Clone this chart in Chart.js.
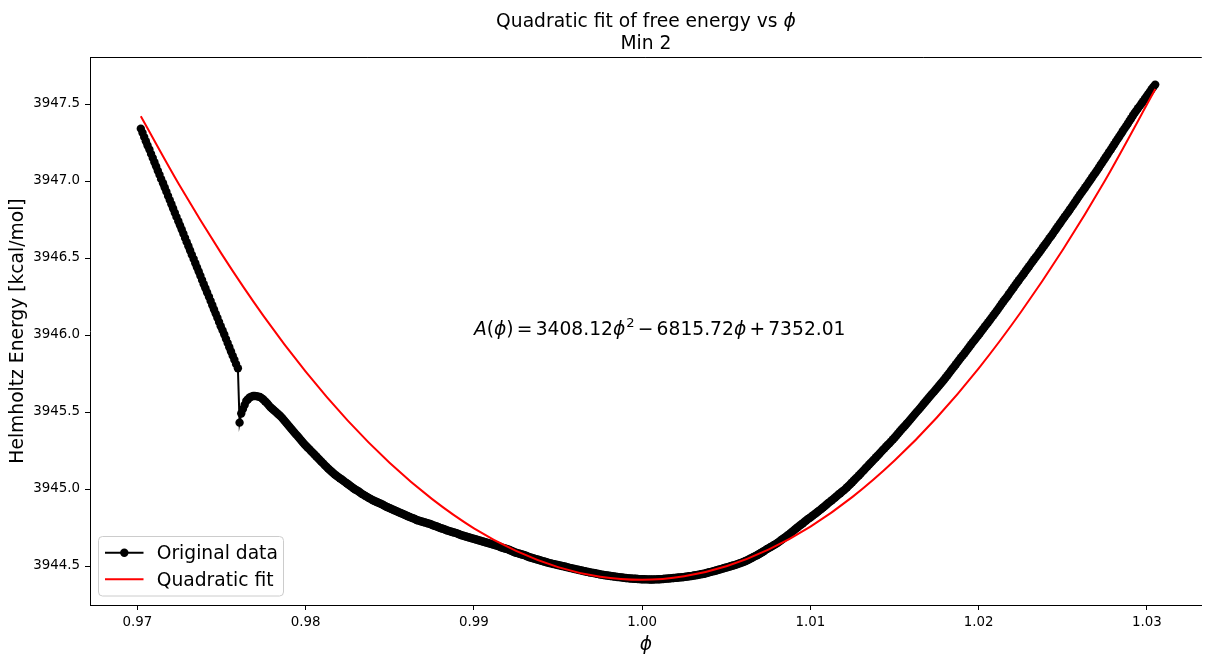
<!DOCTYPE html>
<html>
<head>
<meta charset="utf-8">
<script src="https://cdn.jsdelivr.net/npm/chart.js@4.4.1/dist/chart.umd.min.js"></script>
<style>
  html, body { margin: 0; padding: 0; background: #ffffff; overflow: hidden; }
  canvas { display: block; }
</style>
</head>
<body>
<canvas id="c" width="1206" height="655" style="width:1206px;height:655px"></canvas>
<script>
const titleMain = "Quadratic fit of free energy vs ";
const titleSymbol = "\u03D5";
const titleSub = "Min 2";
const xLabel = "\u03D5";
const yLabel = "Helmholtz Energy [kcal/mol]";
const seriesNames = ["Original data", "Quadratic fit"];
const xTicks = [0.97, 0.98, 0.99, 1.00, 1.01, 1.02, 1.03];
const yTicks = [3944.5, 3945.0, 3945.5, 3946.0, 3946.5, 3947.0, 3947.5];
const fitCoef = ["3408.12", "6815.72", "7352.01"];
const annotationAt = [0.99, 3946.0];

const phi = [
0.97020,0.97030,0.97040,0.97050,0.97060,0.97071,0.97081,0.97091,0.97101,0.97111,0.97121,0.97131,0.97141,0.97152,0.97162,0.97172,0.97182,0.97192,0.97202,0.97212,
0.97222,0.97232,0.97243,0.97253,0.97263,0.97273,0.97283,0.97293,0.97303,0.97313,0.97323,0.97334,0.97344,0.97354,0.97364,0.97374,0.97384,0.97394,0.97404,0.97414,
0.97425,0.97435,0.97445,0.97455,0.97465,0.97475,0.97485,0.97495,0.97506,0.97516,0.97526,0.97536,0.97546,0.97556,0.97566,0.97576,0.97586,0.97597,0.97607,0.97617,
0.97627,0.97637,0.97647,0.97657,0.97667,0.97677,0.97688,0.97698,0.97708,0.97718,0.97728,0.97738,0.97748,0.97758,0.97769,0.97779,0.97789,0.97799,0.97809,0.97819,
0.97829,0.97839,0.97849,0.97860,0.97870,0.97880,0.97890,0.97900,0.97910,0.97920,0.97930,0.97940,0.97951,0.97961,0.97971,0.97981,0.97991,0.98001,0.98011,0.98021,
0.98031,0.98042,0.98052,0.98062,0.98072,0.98082,0.98092,0.98102,0.98112,0.98123,0.98133,0.98143,0.98153,0.98163,0.98173,0.98183,0.98193,0.98203,0.98214,0.98224,
0.98234,0.98244,0.98254,0.98264,0.98274,0.98284,0.98294,0.98305,0.98315,0.98325,0.98335,0.98345,0.98355,0.98365,0.98375,0.98386,0.98396,0.98406,0.98416,0.98426,
0.98436,0.98446,0.98456,0.98466,0.98477,0.98487,0.98497,0.98507,0.98517,0.98527,0.98537,0.98547,0.98557,0.98568,0.98578,0.98588,0.98598,0.98608,0.98618,0.98628,
0.98638,0.98649,0.98659,0.98669,0.98679,0.98689,0.98699,0.98709,0.98719,0.98729,0.98740,0.98750,0.98760,0.98770,0.98780,0.98790,0.98800,0.98810,0.98820,0.98831,
0.98841,0.98851,0.98861,0.98871,0.98881,0.98891,0.98901,0.98912,0.98922,0.98932,0.98942,0.98952,0.98962,0.98972,0.98982,0.98992,0.99003,0.99013,0.99023,0.99033,
0.99043,0.99053,0.99063,0.99073,0.99083,0.99094,0.99104,0.99114,0.99124,0.99134,0.99144,0.99154,0.99164,0.99175,0.99185,0.99195,0.99205,0.99215,0.99225,0.99235,
0.99245,0.99255,0.99266,0.99276,0.99286,0.99296,0.99306,0.99316,0.99326,0.99336,0.99346,0.99357,0.99367,0.99377,0.99387,0.99397,0.99407,0.99417,0.99427,0.99437,
0.99448,0.99458,0.99468,0.99478,0.99488,0.99498,0.99508,0.99518,0.99529,0.99539,0.99549,0.99559,0.99569,0.99579,0.99589,0.99599,0.99609,0.99620,0.99630,0.99640,
0.99650,0.99660,0.99670,0.99680,0.99690,0.99700,0.99711,0.99721,0.99731,0.99741,0.99751,0.99761,0.99771,0.99781,0.99792,0.99802,0.99812,0.99822,0.99832,0.99842,
0.99852,0.99862,0.99872,0.99883,0.99893,0.99903,0.99913,0.99923,0.99933,0.99943,0.99953,0.99963,0.99974,0.99984,0.99994,1.00004,1.00014,1.00024,1.00034,1.00044,
1.00054,1.00065,1.00075,1.00085,1.00095,1.00105,1.00115,1.00125,1.00135,1.00146,1.00156,1.00166,1.00176,1.00186,1.00196,1.00206,1.00216,1.00226,1.00237,1.00247,
1.00257,1.00267,1.00277,1.00287,1.00297,1.00307,1.00317,1.00328,1.00338,1.00348,1.00358,1.00368,1.00378,1.00388,1.00398,1.00409,1.00419,1.00429,1.00439,1.00449,
1.00459,1.00469,1.00479,1.00489,1.00500,1.00510,1.00520,1.00530,1.00540,1.00550,1.00560,1.00570,1.00580,1.00591,1.00601,1.00611,1.00621,1.00631,1.00641,1.00651,
1.00661,1.00672,1.00682,1.00692,1.00702,1.00712,1.00722,1.00732,1.00742,1.00752,1.00763,1.00773,1.00783,1.00793,1.00803,1.00813,1.00823,1.00833,1.00843,1.00854,
1.00864,1.00874,1.00884,1.00894,1.00904,1.00914,1.00924,1.00935,1.00945,1.00955,1.00965,1.00975,1.00985,1.00995,1.01005,1.01015,1.01026,1.01036,1.01046,1.01056,
1.01066,1.01076,1.01086,1.01096,1.01106,1.01117,1.01127,1.01137,1.01147,1.01157,1.01167,1.01177,1.01187,1.01198,1.01208,1.01218,1.01228,1.01238,1.01248,1.01258,
1.01268,1.01278,1.01289,1.01299,1.01309,1.01319,1.01329,1.01339,1.01349,1.01359,1.01369,1.01380,1.01390,1.01400,1.01410,1.01420,1.01430,1.01440,1.01450,1.01460,
1.01471,1.01481,1.01491,1.01501,1.01511,1.01521,1.01531,1.01541,1.01552,1.01562,1.01572,1.01582,1.01592,1.01602,1.01612,1.01622,1.01632,1.01643,1.01653,1.01663,
1.01673,1.01683,1.01693,1.01703,1.01713,1.01723,1.01734,1.01744,1.01754,1.01764,1.01774,1.01784,1.01794,1.01804,1.01815,1.01825,1.01835,1.01845,1.01855,1.01865,
1.01875,1.01885,1.01895,1.01906,1.01916,1.01926,1.01936,1.01946,1.01956,1.01966,1.01976,1.01986,1.01997,1.02007,1.02017,1.02027,1.02037,1.02047,1.02057,1.02067,
1.02077,1.02088,1.02098,1.02108,1.02118,1.02128,1.02138,1.02148,1.02158,1.02169,1.02179,1.02189,1.02199,1.02209,1.02219,1.02229,1.02239,1.02249,1.02260,1.02270,
1.02280,1.02290,1.02300,1.02310,1.02320,1.02330,1.02340,1.02351,1.02361,1.02371,1.02381,1.02391,1.02401,1.02411,1.02421,1.02432,1.02442,1.02452,1.02462,1.02472,
1.02482,1.02492,1.02502,1.02512,1.02523,1.02533,1.02543,1.02553,1.02563,1.02573,1.02583,1.02593,1.02603,1.02614,1.02624,1.02634,1.02644,1.02654,1.02664,1.02674,
1.02684,1.02695,1.02705,1.02715,1.02725,1.02735,1.02745,1.02755,1.02765,1.02775,1.02786,1.02796,1.02806,1.02816,1.02826,1.02836,1.02846,1.02856,1.02866,1.02877,
1.02887,1.02897,1.02907,1.02917,1.02927,1.02937,1.02947,1.02958,1.02968,1.02978,1.02988,1.02998,1.03008,1.03018,1.03028,1.03038,1.03049
];

const energy = [
3947.340,3947.313,3947.285,3947.258,3947.231,3947.204,3947.176,3947.149,3947.122,3947.095,3947.067,3947.040,3947.012,3946.985,3946.958,3946.931,3946.903,3946.876,3946.849,3946.822,
3946.794,3946.767,3946.739,3946.712,3946.685,3946.658,3946.630,3946.603,3946.576,3946.549,3946.521,3946.494,3946.466,3946.439,3946.412,3946.385,3946.357,3946.330,3946.303,3946.276,
3946.248,3946.221,3946.193,3946.166,3946.139,3946.112,3946.084,3946.057,3946.030,3946.003,3945.975,3945.948,3945.920,3945.893,3945.866,3945.839,3945.811,3945.784,
3945.431,3945.490,3945.519,3945.545,3945.571,3945.583,3945.594,3945.600,3945.604,3945.604,3945.603,3945.600,3945.597,3945.590,3945.581,3945.570,3945.558,3945.545,3945.532,3945.523,3945.513,3945.504,
3945.494,3945.484,3945.474,3945.461,3945.448,3945.435,3945.422,3945.409,3945.396,3945.383,3945.370,3945.357,3945.344,3945.331,3945.318,3945.305,3945.292,3945.281,3945.270,3945.259,
3945.247,3945.236,3945.224,3945.213,3945.201,3945.190,3945.179,3945.168,3945.156,3945.145,3945.133,3945.124,3945.114,3945.104,3945.094,3945.086,3945.078,3945.070,3945.062,3945.054,
3945.045,3945.037,3945.029,3945.021,3945.013,3945.005,3944.997,3944.991,3944.984,3944.976,3944.968,3944.962,3944.955,3944.949,3944.942,3944.936,3944.929,3944.924,3944.919,3944.914,
3944.909,3944.904,3944.899,3944.893,3944.886,3944.882,3944.877,3944.872,3944.867,3944.862,3944.857,3944.852,3944.847,3944.843,3944.838,3944.833,3944.828,3944.823,3944.818,3944.814,
3944.810,3944.805,3944.799,3944.796,3944.792,3944.789,3944.786,3944.783,3944.779,3944.776,3944.773,3944.768,3944.763,3944.760,3944.757,3944.752,3944.747,3944.744,3944.740,3944.736,
3944.731,3944.728,3944.724,3944.721,3944.718,3944.715,3944.711,3944.706,3944.701,3944.698,3944.695,3944.692,3944.688,3944.685,3944.682,3944.679,3944.675,3944.672,3944.669,3944.666,
3944.662,3944.659,3944.656,3944.653,3944.649,3944.646,3944.643,3944.640,3944.636,3944.633,3944.630,3944.625,3944.620,3944.617,3944.614,3944.611,3944.607,3944.602,3944.597,3944.593,
3944.588,3944.585,3944.581,3944.578,3944.575,3944.572,3944.568,3944.563,3944.558,3944.555,3944.552,3944.549,3944.545,3944.542,3944.539,3944.536,3944.532,3944.529,3944.526,3944.523,
3944.519,3944.517,3944.514,3944.512,3944.509,3944.507,3944.504,3944.502,3944.499,3944.497,3944.494,3944.491,3944.488,3944.486,3944.483,3944.481,3944.478,3944.476,3944.473,3944.471,
3944.468,3944.466,3944.463,3944.461,3944.458,3944.457,3944.455,3944.453,3944.450,3944.448,3944.445,3944.444,3944.442,3944.440,3944.438,3944.437,3944.435,3944.434,3944.432,3944.431,
3944.429,3944.428,3944.426,3944.425,3944.423,3944.422,3944.421,3944.420,3944.419,3944.418,3944.417,3944.417,3944.416,3944.415,3944.414,3944.414,3944.414,3944.413,3944.413,3944.412,
3944.412,3944.412,3944.413,3944.413,3944.414,3944.414,3944.415,3944.416,3944.417,3944.418,3944.419,3944.420,3944.421,3944.422,3944.423,3944.424,3944.425,3944.426,3944.427,3944.428,
3944.430,3944.431,3944.433,3944.434,3944.436,3944.438,3944.440,3944.442,3944.444,3944.446,3944.448,3944.450,3944.453,3944.456,3944.459,3944.462,3944.465,3944.468,3944.471,3944.474,
3944.477,3944.480,3944.484,3944.487,3944.490,3944.493,3944.497,3944.500,3944.503,3944.506,3944.510,3944.514,3944.518,3944.522,3944.526,3944.531,3944.536,3944.541,3944.547,3944.552,
3944.558,3944.564,3944.570,3944.576,3944.583,3944.589,3944.596,3944.603,3944.610,3944.616,3944.623,3944.629,3944.636,3944.642,3944.649,3944.657,3944.666,3944.674,3944.682,3944.690,
3944.699,3944.707,3944.716,3944.725,3944.734,3944.743,3944.752,3944.761,3944.770,3944.778,3944.787,3944.796,3944.805,3944.812,3944.820,3944.829,3944.838,3944.846,3944.855,3944.863,
3944.872,3944.881,3944.890,3944.899,3944.909,3944.918,3944.927,3944.936,3944.945,3944.954,3944.964,3944.973,3944.982,3944.991,3945.001,3945.011,3945.022,3945.033,3945.044,3945.055,
3945.066,3945.077,3945.089,3945.101,3945.113,3945.124,3945.136,3945.147,3945.159,3945.170,3945.182,3945.194,3945.206,3945.217,3945.229,3945.241,3945.253,3945.264,3945.276,3945.287,
3945.299,3945.311,3945.323,3945.335,3945.348,3945.360,3945.373,3945.386,3945.399,3945.411,3945.424,3945.436,3945.449,3945.462,3945.475,3945.488,3945.501,3945.514,3945.527,3945.540,
3945.553,3945.566,3945.579,3945.592,3945.605,3945.618,3945.631,3945.644,3945.657,3945.670,3945.684,3945.697,3945.710,3945.724,3945.739,3945.753,3945.768,3945.782,3945.796,3945.810,
3945.825,3945.839,3945.854,3945.868,3945.882,3945.896,3945.911,3945.925,3945.940,3945.954,3945.968,3945.982,3945.997,3946.011,3946.026,3946.040,3946.055,3946.069,3946.083,3946.098,
3946.113,3946.128,3946.143,3946.158,3946.173,3946.188,3946.204,3946.219,3946.234,3946.249,3946.265,3946.280,3946.295,3946.310,3946.326,3946.341,3946.356,3946.371,3946.386,3946.401,
3946.417,3946.432,3946.447,3946.462,3946.477,3946.492,3946.507,3946.522,3946.537,3946.552,3946.568,3946.583,3946.598,3946.613,3946.629,3946.644,3946.660,3946.676,3946.692,3946.707,
3946.723,3946.738,3946.754,3946.769,3946.785,3946.800,3946.816,3946.832,3946.848,3946.864,3946.880,3946.896,3946.912,3946.928,3946.944,3946.959,3946.975,3946.991,3947.007,3947.023,
3947.039,3947.055,3947.072,3947.088,3947.105,3947.121,3947.138,3947.154,3947.171,3947.188,3947.205,3947.222,3947.239,3947.256,3947.273,3947.289,3947.306,3947.323,3947.340,3947.357,
3947.374,3947.391,3947.408,3947.425,3947.442,3947.457,3947.473,3947.488,3947.503,3947.518,3947.534,3947.549,3947.565,3947.580,3947.596,3947.611,3947.626
];

const fitPhi = [
0.9702,0.9725,0.9750,0.9775,0.9800,0.9825,0.9850,0.9875,0.9900,0.9925,0.9950,0.9975,
1.0000,1.0025,1.0050,1.0075,1.0100,1.0125,1.0150,1.0175,1.0200,1.0225,1.0250,1.0275,1.0305
];
const fitEnergy = [
3947.420,3946.972,3946.527,3946.123,3945.762,3945.444,3945.169,3944.936,3944.745,3944.598,3944.493,3944.430,
3944.410,3944.433,3944.498,3944.606,3944.756,3944.949,3945.185,3945.463,3945.784,3946.148,3946.554,3947.002,3947.597
];

if (phi.length !== energy.length) console.error('length mismatch', phi.length, energy.length);

const FS = 18.7;   // large text
const TFS = 13.4;  // tick text
const FONT = '"DejaVu Sans", sans-serif';
Chart.defaults.font.family = FONT;
Chart.defaults.color = '#000000';

const titlePlugin = {
  id: 'titleText',
  afterDraw(chart) {
    const { ctx, chartArea: a } = chart;
    const cx = (a.left + a.right) / 2;
    const reg = `${FS}px ${FONT}`, ital = `italic ${FS}px ${FONT}`;
    ctx.save();
    ctx.fillStyle = '#000000';
    ctx.textBaseline = 'alphabetic';
    ctx.textAlign = 'left';
    ctx.font = reg;
    const w1 = ctx.measureText(titleMain).width;
    ctx.font = ital;
    const w2 = ctx.measureText(titleSymbol).width;
    let x0 = cx - (w1 + w2) / 2;
    ctx.font = reg;
    ctx.fillText(titleMain, x0, 26.8);
    ctx.font = ital;
    ctx.fillText(titleSymbol, x0 + w1, 26.8);
    ctx.font = reg;
    ctx.textAlign = 'center';
    ctx.fillText(titleSub, cx, 49.2);
    ctx.restore();
  }
};

const framePlugin = {
  id: 'frame',
  afterDatasetsDraw(chart) {
    const { ctx, chartArea: a } = chart;
    ctx.save();
    ctx.strokeStyle = '#000000';
    ctx.lineWidth = 1;
    ctx.beginPath();
    ctx.moveTo(a.left, Math.round(a.top) + 0.5);
    ctx.lineTo(a.right, Math.round(a.top) + 0.5);
    ctx.stroke();
    ctx.restore();
  }
};

const annotationPlugin = {
  id: 'eqn',
  afterDatasetsDraw(chart) {
    const { ctx, scales: { x, y } } = chart;
    let cx = x.getPixelForValue(annotationAt[0]);
    const by = y.getPixelForValue(annotationAt[1]);
    const reg = `${FS}px ${FONT}`;
    const ital = `italic ${FS}px ${FONT}`;
    const sup = `${(FS * 0.7).toFixed(2)}px ${FONT}`;
    const g = FS * 0.17;
    const parts = [
      ['A', ital, 0, 0, 0], ['(', reg, 0, 0, 0], ['\u03D5', ital, 0, 0, 0], [')', reg, 0, 0, 0],
      ['=', reg, g, g, 0], [fitCoef[0], reg, 0, 0, 0], ['\u03D5', ital, 0, 0, 0], ['2', sup, 1, 0, FS * 0.42],
      ['\u2212', reg, g, g, 0], [fitCoef[1], reg, 0, 0, 0], ['\u03D5', ital, 0, 0, 0],
      ['+', reg, g, g, 0], [fitCoef[2], reg, 0, 0, 0]
    ];
    ctx.save();
    ctx.fillStyle = '#000000';
    ctx.textBaseline = 'alphabetic';
    ctx.textAlign = 'left';
    for (const [t, f, pre, post, rise] of parts) {
      ctx.font = f;
      cx += pre;
      ctx.fillText(t, cx, by - rise);
      cx += ctx.measureText(t).width + post;
    }
    ctx.restore();
  }
};

const legendPlugin = {
  id: 'legendBox',
  afterDraw(chart) {
    const { ctx, chartArea: a } = chart;
    const bx = a.left + 8.5, by = a.bottom - 68.5, bw = 185, bh = 59.5;
    ctx.save();
    ctx.beginPath();
    ctx.roundRect(bx, by, bw, bh, 4);
    ctx.fillStyle = 'rgba(255,255,255,0.8)';
    ctx.fill();
    ctx.strokeStyle = '#cccccc';
    ctx.lineWidth = 1;
    ctx.stroke();
    const rows = [
      { y: by + 16.2, color: '#000000', marker: true, text: seriesNames[0] },
      { y: by + 42.8, color: '#ff0000', marker: false, text: seriesNames[1] }
    ];
    for (const r of rows) {
      ctx.strokeStyle = r.color;
      ctx.lineWidth = 2;
      ctx.beginPath();
      ctx.moveTo(bx + 6.5, r.y);
      ctx.lineTo(bx + 45, r.y);
      ctx.stroke();
      if (r.marker) {
        ctx.fillStyle = r.color;
        ctx.beginPath();
        ctx.arc(bx + 25.8, r.y, 4.2, 0, Math.PI * 2);
        ctx.fill();
      }
      ctx.fillStyle = '#000000';
      ctx.font = `${FS}px ${FONT}`;
      ctx.textBaseline = 'alphabetic';
      ctx.textAlign = 'left';
      ctx.fillText(r.text, bx + 58.2, r.y + FS * 0.36);
    }
    ctx.restore();
  }
};

new Chart(document.getElementById('c').getContext('2d'), {
  type: 'line',
  data: {
    datasets: [
      {
        label: seriesNames[0],
        data: phi.map((v, i) => ({ x: v, y: energy[i] })),
        borderColor: '#000000',
        backgroundColor: '#000000',
        borderWidth: 2,
        pointRadius: 4.2,
        pointHoverRadius: 4.2,
        pointBorderWidth: 0,
        pointBackgroundColor: '#000000',
        tension: 0,
        fill: false,
        order: 2
      },
      {
        label: seriesNames[1],
        data: fitPhi.map((v, i) => ({ x: v, y: fitEnergy[i] })),
        borderColor: '#ff0000',
        backgroundColor: '#ff0000',
        borderWidth: 2,
        pointRadius: 0,
        pointHoverRadius: 0,
        cubicInterpolationMode: 'monotone',
        fill: false,
        order: 1
      }
    ]
  },
  options: {
    responsive: false,
    animation: false,
    devicePixelRatio: 1,
    layout: { padding: { left: 0, right: 0, top: 57, bottom: 0 } },
    events: [],
    plugins: {
      legend: { display: false },
      tooltip: { enabled: false },
      title: { display: false }
    },
    scales: {
      x: {
        type: 'linear',
        min: 0.96718,
        max: 1.03326,
        afterBuildTicks: (s) => { s.ticks = xTicks.map(v => ({ value: v })); },
        afterFit: (s) => { s.height = 50; },
        ticks: {
          callback: (v) => Number(v).toFixed(2),
          font: { size: TFS },
          color: '#000000',
          padding: 4,
          maxRotation: 0,
          autoSkip: false
        },
        grid: { display: true, drawOnChartArea: false, drawTicks: true, tickLength: 5, color: '#000000', lineWidth: 1 },
        border: { display: true, color: '#000000', width: 1 },
        title: {
          display: true,
          text: xLabel,
          color: '#000000',
          font: { size: FS, style: 'italic', lineHeight: 1.1 },
          padding: { top: 0, bottom: 0 }
        }
      },
      y: {
        type: 'linear',
        min: 3944.2468,
        max: 3947.8052,
        afterBuildTicks: (s) => { s.ticks = yTicks.map(v => ({ value: v })); },
        afterFit: (s) => { s.width = 90; },
        ticks: {
          callback: (v) => Number(v).toFixed(1),
          font: { size: TFS },
          color: '#000000',
          padding: 5,
          autoSkip: false
        },
        grid: { display: true, drawOnChartArea: false, drawTicks: true, tickLength: 5, color: '#000000', lineWidth: 1 },
        border: { display: true, color: '#000000', width: 1 },
        title: {
          display: true,
          text: yLabel,
          color: '#000000',
          font: { size: FS, lineHeight: 1.2 },
          padding: { top: 7, bottom: 0 }
        }
      }
    }
  },
  plugins: [framePlugin, annotationPlugin, legendPlugin, titlePlugin]
});
</script>
</body>
</html>
